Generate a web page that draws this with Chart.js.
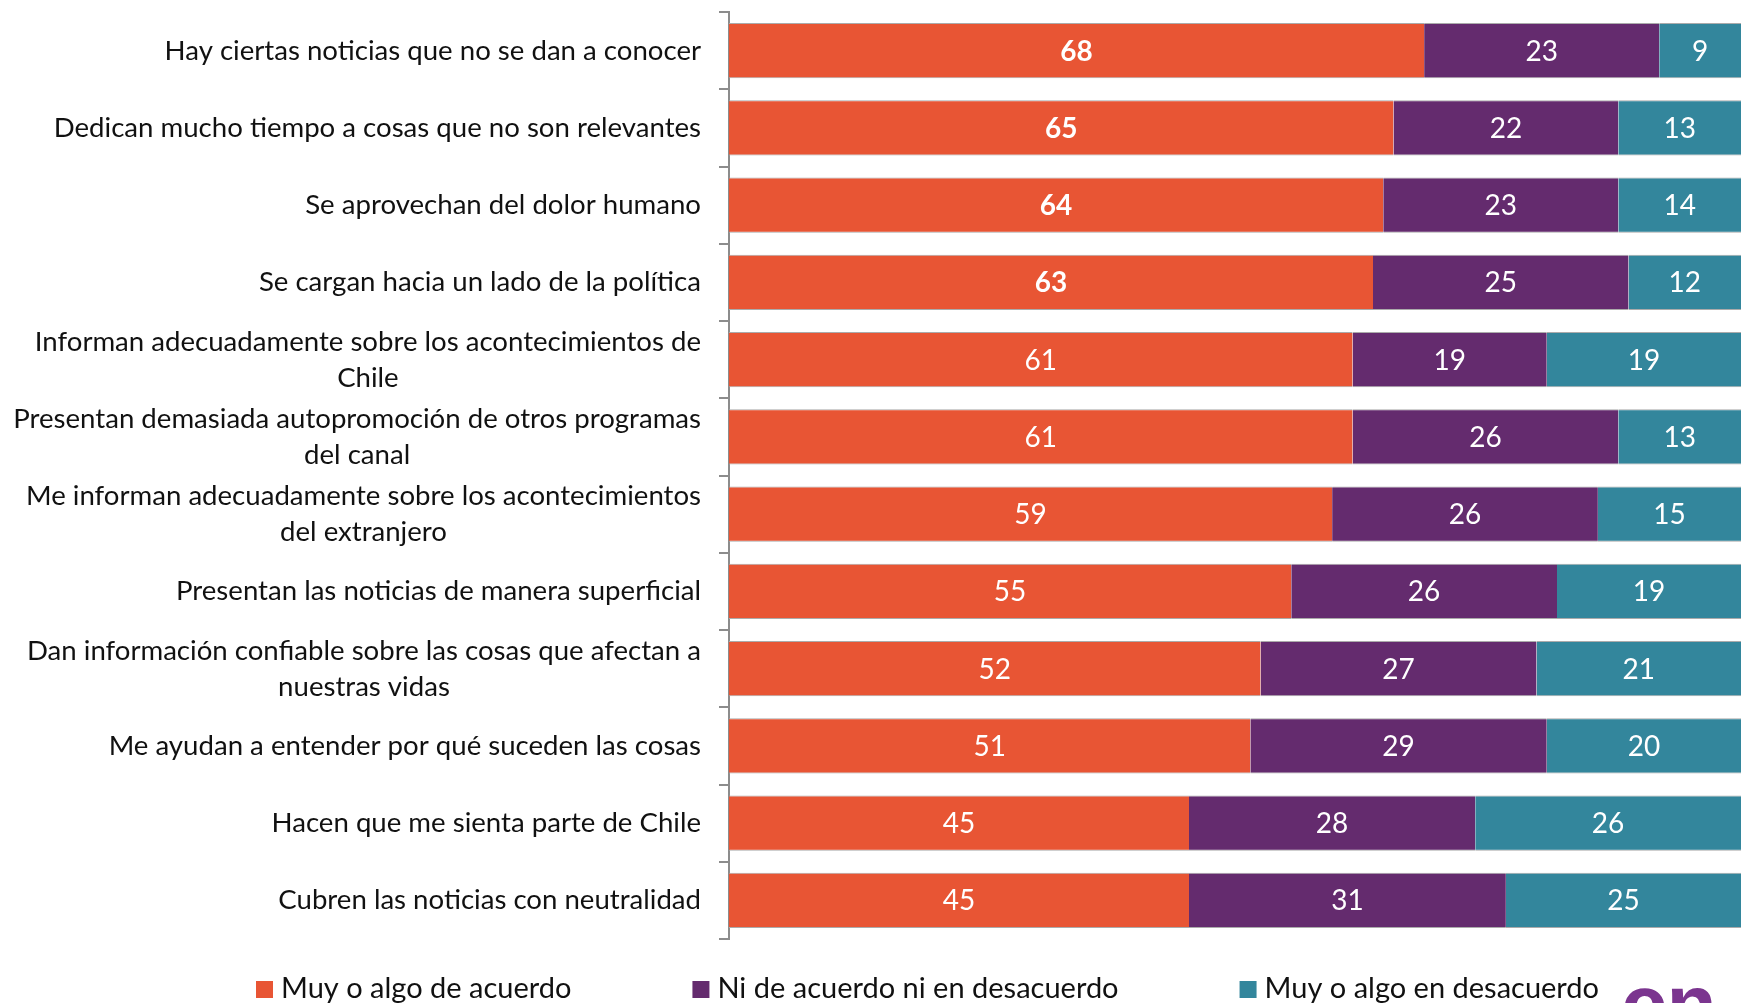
<!DOCTYPE html>
<html>
<head>
<meta charset="utf-8">
<script src="https://cdn.jsdelivr.net/npm/chart.js@4/dist/chart.umd.min.js"></script>
<style>
  html, body { margin: 0; padding: 0; background: #ffffff; overflow: hidden; }
  #wrap { position: relative; width: 1741px; height: 1003px; }
</style>
</head>
<body>
<div id="wrap"><canvas id="c"></canvas></div>
<script>
// ---- data ----
const categories = [
  ["Hay ciertas noticias que no se dan a conocer"],
  ["Dedican mucho tiempo a cosas que no son relevantes"],
  ["Se aprovechan del dolor humano"],
  ["Se cargan hacia un lado de la política"],
  ["Informan adecuadamente sobre los acontecimientos de", "Chile"],
  ["Presentan demasiada autopromoción de otros programas", "del canal"],
  ["Me informan adecuadamente sobre los acontecimientos", "del extranjero"],
  ["Presentan las noticias de manera superficial"],
  ["Dan información confiable sobre las cosas que afectan a", "nuestras vidas"],
  ["Me ayudan a entender por qué suceden las cosas"],
  ["Hacen que me sienta parte de Chile"],
  ["Cubren las noticias con neutralidad"]
];
const seriesNames = ["Muy o algo de acuerdo", "Ni de acuerdo ni en desacuerdo", "Muy o algo en desacuerdo"];
const acuerdo    = [68, 65, 64, 63, 61, 61, 59, 55, 52, 51, 45, 45];
const neutral    = [23, 22, 23, 25, 19, 26, 26, 26, 27, 29, 28, 31];
const desacuerdo = [ 9, 13, 14, 12, 19, 13, 15, 19, 21, 20, 26, 25];
const xMin = 0, xMax = 99;

// ---- style ----
const COLORS = ["#E85534", "#642B6E", "#33869C"];
const FONT = "Lato, 'Open Sans', sans-serif";
const LABEL_SIZE = 27.6, LABEL_LINE = 36;
const VALUE_SIZE = 28;
const LEGEND_SIZE = 29;

const labelPlugin = {
  id: 'customLabels',
  afterDraw(chart) {
    const ctx = chart.ctx;
    const ys = chart.scales.y;
    const ca = chart.chartArea;
    // category labels: block right-aligned, lines centered within block
    ctx.save();
    ctx.font = LABEL_SIZE + "px " + FONT;
    ctx.fillStyle = "#111111";
    ctx.textBaseline = "middle";
    ctx.textAlign = "center";
    const rightEdge = ca.left - 28;
    chart.data.labels.forEach((lines, i) => {
      const yc = ys.getPixelForValue(i);
      const w = Math.max(...lines.map(l => ctx.measureText(l).width));
      const cx = rightEdge - w / 2;
      const y0 = yc - (lines.length - 1) * LABEL_LINE / 2;
      lines.forEach((l, k) => ctx.fillText(l, cx, y0 + k * LABEL_LINE));
    });
    ctx.restore();

    // legend
    ctx.save();
    ctx.font = LEGEND_SIZE + "px " + FONT;
    ctx.textBaseline = "alphabetic";
    ctx.textAlign = "left";
    let lx = 256;
    const base = 998;
    chart.data.datasets.forEach((ds) => {
      ctx.fillStyle = ds.backgroundColor;
      ctx.fillRect(lx, base - 17, 17, 17);
      ctx.fillStyle = "#111111";
      ctx.fillText(ds.label, lx + 25, base);
      lx += 25 + ctx.measureText(ds.label).width + 121;
    });
    // logo fragment at bottom right
    ctx.fillStyle = "#7B358F";
    ctx.font = "bold 82px 'Liberation Sans', Arial, sans-serif";
    ctx.fillText("cn", 1621, 1032);
    ctx.restore();
  },
  afterDatasetsDraw(chart) {
    const ctx = chart.ctx;
    const ca = chart.chartArea;
    ctx.save();
    ctx.fillStyle = "#ffffff";
    ctx.textAlign = "center";
    ctx.textBaseline = "middle";
    chart.data.datasets.forEach((ds, di) => {
      const meta = chart.getDatasetMeta(di);
      meta.data.forEach((el, i) => {
        const p = el.getProps(['x', 'y', 'base'], true);
        const x1 = Math.min(p.x, ca.right), x0 = Math.max(p.base, ca.left);
        const bold = (di === 0 && i < 4) ? "bold " : "";
        ctx.font = bold + VALUE_SIZE + "px " + FONT;
        ctx.fillText(String(ds.data[i]), (x0 + x1) / 2, p.y + 1);
      });
    });
    ctx.restore();
  }
};

const seriesData = [acuerdo, neutral, desacuerdo];
const chart = new Chart(document.getElementById('c'), {
  type: 'bar',
  data: {
    labels: categories,
    datasets: seriesNames.map((name, k) => ({
      label: name,
      data: seriesData[k],
      backgroundColor: COLORS[k],
      borderColor: "#ABABAB",
      borderWidth: { top: 1, bottom: 1, left: 0, right: 0 },
      borderSkipped: false,
      barPercentage: 0.712,
      categoryPercentage: 1.0
    }))
  },
  options: {
    indexAxis: 'y',
    responsive: true,
    maintainAspectRatio: false,
    animation: false,
    layout: { padding: { top: 12, bottom: 64, left: 0, right: 0 } },
    plugins: {
      legend: { display: false },
      tooltip: { enabled: false }
    },
    scales: {
      x: { stacked: true, min: xMin, max: xMax, display: false },
      y: {
        stacked: true,
        position: 'left',
        ticks: { display: false },
        grid: { drawOnChartArea: false, drawTicks: true, tickLength: 10, color: "#8C8C8C", lineWidth: 2, offset: true },
        border: { display: true, color: "#8C8C8C", width: 2 },
        afterFit(scale) { scale.width = 729; }
      }
    }
  },
  plugins: [labelPlugin]
});
</script>
</body>
</html>
